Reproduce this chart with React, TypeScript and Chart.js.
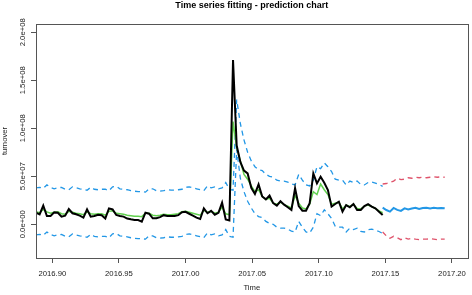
import React, { useEffect, useRef } from "react";
import { Chart, registerables } from "chart.js";

Chart.register(...registerables);

// ts(start = c(2016, 325), frequency = 365)
const START_YEAR = 2016;
const START_DAY = 325;
const FREQUENCY = 365;

// observed turnover (millions)
const turnover = [
  12.1, 10.4, 19.5, 8.6, 8.6, 12.4, 12, 8.0, 9, 15.9,
  11.5, 10.4, 9, 7, 15.6, 8, 8.6, 10, 9.4, 6,
  16.6, 15.5, 9.7, 8.6, 8, 6, 5.2, 4.5, 4.5, 2.8,
  12.1, 11, 6.3, 6.3, 7.5, 9.5, 8.6, 8.6, 8.6, 9.5,
  12.5, 13, 11, 9, 7, 5.5, 16.6, 11.5, 14, 10,
  12, 22.5, 5, 4, 171, 82, 65, 56, 53, 38,
  31.6, 41.6, 29, 26, 30, 22, 19.5, 24, 20.5, 17.7,
  15, 37.5, 19, 14.2, 14.2, 22, 53, 42.6, 49.5, 43.3,
  35.7, 18.4, 21.2, 23.6, 13.2, 20, 17.7, 21.2, 14.9, 14.9,
  19, 21, 18.4, 16.6, 13.2, 9.7,
];

// fitted values (millions)
const fitted = [
  13, 12, 15.5, 13, 11.5, 12.5, 13, 11, 10.5, 13.5,
  12.5, 11.5, 11, 10, 13, 11, 10.5, 11, 11, 9.5,
  13.5, 14, 11.5, 11, 10.5, 9.5, 9, 8.5, 8.5, 8,
  11.5, 11.5, 9.5, 9, 9.5, 10.5, 10, 10, 10.5, 11,
  13, 13.5, 12.5, 11.5, 10.5, 9.5, 14.5, 12.5, 13.5, 11.5,
  12.5, 18, 11, 10, 107, 80, 66, 52, 47, 40,
  34, 36, 29, 26, 27, 22, 21, 23, 20.5, 19,
  17, 30, 22, 17, 16, 21, 34, 31, 42, 36,
  31, 21, 22, 23, 16, 20, 18.5, 21, 16.5, 16,
  19, 20, 18.5, 16.5, 14, 12,
];

// fitted interval, upper (millions)
const fittedUpper = [
  38, 38.5, 37.5, 41, 38.5, 37, 38, 38.5, 36.5, 36,
  39, 38, 37, 36.5, 35.5, 38.5, 36.5, 36, 36.5, 36.5,
  35, 39, 39.5, 37, 36.5, 36, 35, 34.5, 34, 34,
  33.5, 37, 37, 35, 34.5, 35, 36, 35.5, 35.5, 36,
  36.5, 38.5, 39, 38, 37, 36, 35, 40, 38, 39,
  37, 38, 43.5, 36.5, 35.5, 130, 105, 88, 75, 66,
  60, 57, 56, 52, 50, 49, 46, 45, 45, 44,
  42, 41, 52, 46, 41, 40, 46, 60, 58, 64,
  60, 55, 47, 46, 46, 41, 45, 43.5, 45, 41.5,
  41, 43.5, 44, 43, 41.5, 39.5,
];

// fitted interval, lower (millions)
const fittedLower = [
  -11, -10.5, -11.5, -8, -10.5, -12, -11, -10.5, -12.5, -13,
  -10, -11, -12, -12.5, -13.5, -10.5, -12.5, -13, -12.5, -12.5,
  -14, -10, -9.5, -12, -12.5, -13, -14, -14.5, -15, -15,
  -15.5, -12, -12, -14, -14.5, -14, -13, -13.5, -13.5, -13,
  -12.5, -10.5, -10, -11, -12, -13, -14, -9, -11, -10,
  -12, -11, -5.5, -12.5, -13.5, 78, 48, 34, 24, 17,
  11, 8, 7, 3, 1, 0, -3, -4, -4, -5,
  -7, -8, 3, -3, -8, -9, -3, 11, 9, 15,
  11, 6, -2, -3, -3, -8, -4, -5.5, -4, -7.5,
  -8, -5.5, -5, -6, -7.5, -9.5,
];

// forecast (millions), starting at index 95 of the series
const FORECAST_START = 95;
const forecastMean = [
  17.3, 14.9, 13.2, 17, 15, 14, 16.6, 15.5, 16.5, 17.3,
  15.9, 17, 17.3, 16.6, 17.3, 16.8, 17, 16.6,
];
const forecastUpper = [
  42, 42.5, 43.5, 45, 48, 46.5, 47, 48.5, 48, 49,
  48.5, 49, 48.5, 49, 49.5, 49, 49.5, 49,
];
const forecastLower = [
  -8, -12, -14.5, -12.5, -14, -16, -14, -15.5, -14.5, -15.5,
  -16, -15.5, -15.5, -15, -15.5, -16, -15.5, -15.5,
];

const xTicks = [2016.9, 2016.95, 2017.0, 2017.05, 2017.1, 2017.15, 2017.2];
const xTickLabels = ["2016.90", "2016.95", "2017.00", "2017.05", "2017.10", "2017.15", "2017.20"];
const yTicks = [0, 5e7, 1e8, 1.5e8, 2e8];
const yTickLabels = ["0.0e+00", "5.0e+07", "1.0e+08", "1.5e+08", "2.0e+08"];

const TITLE = "Time series fitting - prediction chart";
const X_TITLE = "Time";
const Y_TITLE = "turnover";

const FONT = "'Liberation Sans', Arial, Helvetica, sans-serif";
const AXIS_COLOR = "#555555";
const TEXT_COLOR = "#222222";

const timeOf = (i: number) => START_YEAR + (START_DAY - 1 + i) / FREQUENCY;
const toPoints = (vals: number[], offset: number) =>
  vals.map((v, k) => ({ x: timeOf(offset + k), y: v * 1e6 }));

const framePlugin = {
  id: "rframe",
  afterDraw(chart: any) {
    const { ctx, chartArea } = chart;
    const ys = chart.scales.y;
    ctx.save();
    // box
    ctx.strokeStyle = AXIS_COLOR;
    ctx.lineWidth = 1;
    ctx.strokeRect(
      Math.round(chartArea.left) + 0.5,
      Math.round(chartArea.top) + 0.5,
      Math.round(chartArea.right - chartArea.left),
      Math.round(chartArea.bottom - chartArea.top)
    );
    // y tick labels (rotated)
    ctx.fillStyle = TEXT_COLOR;
    ctx.font = `7.7px ${FONT}`;
    ctx.textAlign = "center";
    ctx.textBaseline = "middle";
    yTicks.forEach((v, k) => {
      const py = ys.getPixelForValue(v);
      ctx.save();
      ctx.translate(22.5, py);
      ctx.rotate(-Math.PI / 2);
      ctx.fillText(yTickLabels[k], 0, 0);
      ctx.restore();
    });
    // y title
    const cy = (chartArea.top + chartArea.bottom) / 2;
    const cx = (chartArea.left + chartArea.right) / 2;
    ctx.save();
    ctx.translate(4.5, cy);
    ctx.rotate(-Math.PI / 2);
    ctx.fillText(Y_TITLE, 0, 0);
    ctx.restore();
    // x title
    ctx.fillText(X_TITLE, cx, 288);
    // main title
    ctx.font = `bold 9px ${FONT}`;
    ctx.fillStyle = "#000000";
    ctx.fillText(TITLE, cx, 5.5);
    ctx.restore();
  },
};

export default function App() {
  const canvasRef = useRef<HTMLCanvasElement | null>(null);

  useEffect(() => {
    document.body.style.margin = "0";
    const canvas = canvasRef.current;
    if (!canvas) return;

    const dashed = (data: any[], color: string) => ({
      data,
      borderColor: color,
      borderWidth: 1.3,
      borderDash: [5, 4],
      pointRadius: 0,
      fill: false,
      tension: 0,
    });

    const chart = new Chart(canvas, {
      type: "line",
      data: {
        datasets: [
          {
            data: toPoints(turnover, 0),
            borderColor: "#000000",
            borderWidth: 2,
            pointRadius: 0,
            tension: 0,
          },
          {
            data: toPoints(fitted, 0),
            borderColor: "#61D04F",
            borderWidth: 1.5,
            pointRadius: 0,
            tension: 0,
          },
          dashed(toPoints(fittedUpper, 0), "#2297E6"),
          dashed(toPoints(fittedLower, 0), "#2297E6"),
          {
            data: toPoints(forecastMean, FORECAST_START),
            borderColor: "#2297E6",
            borderWidth: 2,
            pointRadius: 0,
            tension: 0,
          },
          dashed(toPoints(forecastUpper, FORECAST_START), "#DF536B"),
          dashed(toPoints(forecastLower, FORECAST_START), "#DF536B"),
        ],
      },
      options: {
        responsive: false,
        animation: false,
        events: [],
        layout: { padding: { left: 0, top: 24, right: 3, bottom: 0 } },
        plugins: {
          legend: { display: false },
          tooltip: { enabled: false },
          title: { display: false },
        },
        scales: {
          x: {
            type: "linear",
            min: 2016.8877,
            max: 2017.2117,
            afterBuildTicks: (scale: any) => {
              scale.ticks = xTicks.map((v) => ({ value: v }));
            },
            afterFit: (scale: any) => {
              scale.height = 37;
            },
            ticks: {
              autoSkip: false,
              maxRotation: 0,
              minRotation: 0,
              padding: 6,
              color: TEXT_COLOR,
              font: { family: FONT, size: 7.7 },
              callback: (v: any) => {
                const k = xTicks.findIndex((t) => Math.abs(t - Number(v)) < 1e-6);
                return k >= 0 ? xTickLabels[k] : "";
              },
            },
            grid: {
              drawOnChartArea: false,
              drawTicks: true,
              tickLength: 5,
              color: AXIS_COLOR,
            },
            border: { display: true, color: AXIS_COLOR },
          },
          y: {
            type: "linear",
            min: -35.1e6,
            max: 208.65e6,
            afterBuildTicks: (scale: any) => {
              scale.ticks = yTicks.map((v) => ({ value: v }));
            },
            afterFit: (scale: any) => {
              scale.width = 36;
            },
            ticks: { display: false },
            grid: {
              drawOnChartArea: false,
              drawTicks: true,
              tickLength: 5,
              color: AXIS_COLOR,
            },
            border: { display: true, color: AXIS_COLOR },
          },
        },
      },
      plugins: [framePlugin],
    } as any);

    return () => chart.destroy();
  }, []);

  return (
    <canvas
      ref={canvasRef}
      width={472}
      height={295}
      style={{ display: "block", width: 472, height: 295 }}
    />
  );
}
